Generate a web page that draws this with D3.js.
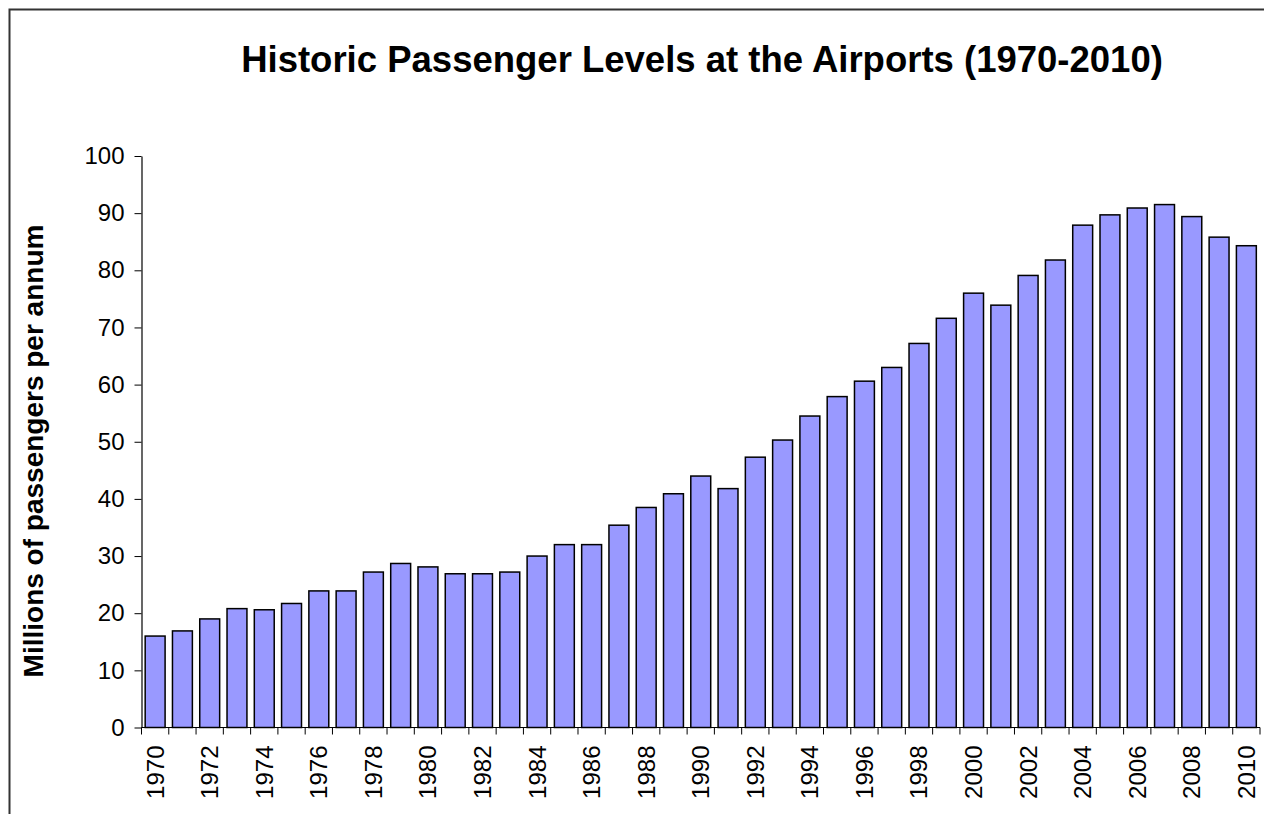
<!DOCTYPE html>
<html>
<head>
<meta charset="utf-8">
<script src="https://cdn.jsdelivr.net/npm/d3@7"></script>
<style>
  html, body { margin: 0; padding: 0; background: #fff; overflow: hidden; }
  svg { display: block; font-family: "Liberation Sans", Arial, sans-serif; }
</style>
</head>
<body>
<svg id="chart" width="1264" height="814"></svg>
<script>
// years and passengers (millions per annum)
const years = d3.range(1970, 2011);
const passengers = [
  16.0, 16.9, 19.0, 20.8, 20.6, 21.7, 23.9, 23.9, 27.2, 28.7,
  28.1, 26.9, 26.9, 27.2, 30.0, 32.0, 32.0, 35.4, 38.5, 40.9,
  44.0, 41.8, 47.3, 50.3, 54.5, 57.9, 60.6, 63.0, 67.2, 71.6,
  76.0, 73.9, 79.1, 81.8, 87.9, 89.7, 90.9, 91.5, 89.4, 85.8,
  84.3
];
const yTicks = [0, 10, 20, 30, 40, 50, 60, 70, 80, 90, 100];
const labelYears = years.filter((y) => (y - 1970) % 2 === 0);

const svg = d3.select("#chart");

// plot box
const plotLeft = 141.5, plotRight = 1260, plotTop = 156, plotBottom = 727.5;

// outer frame, runs off the right and bottom edges
svg.append("rect")
  .attr("x", 9.5).attr("y", 9.5)
  .attr("width", 1400).attr("height", 1000)
  .attr("fill", "none")
  .attr("stroke", "#333")
  .attr("stroke-width", 2);

// title
svg.append("text")
  .attr("x", 702).attr("y", 72)
  .attr("text-anchor", "middle")
  .style("font-size", "36.5px")
  .style("font-weight", "bold")
  .text("Historic Passenger Levels at the Airports (1970-2010)");

const x = d3.scaleBand()
  .domain(years)
  .range([plotLeft, plotRight])
  .paddingInner(0.27)
  .paddingOuter(0.135);

const y = d3.scaleLinear()
  .domain([0, 100])
  .range([plotBottom, plotTop]);

// bars
svg.append("g")
  .selectAll("rect")
  .data(years)
  .join("rect")
  .attr("x", (d) => x(d))
  .attr("y", (d, i) => y(passengers[i]))
  .attr("width", x.bandwidth())
  .attr("height", (d, i) => y(0) - y(passengers[i]))
  .attr("fill", "#9999ff")
  .attr("stroke", "#000")
  .attr("stroke-width", 1.5);

// y axis
const yAxis = svg.append("g")
  .attr("transform", `translate(${plotLeft},0)`)
  .call(d3.axisLeft(y).tickValues(yTicks).tickSize(7).tickPadding(10).tickSizeOuter(0));
yAxis.select(".domain").attr("stroke", "#000").attr("stroke-width", 1.2);
yAxis.selectAll(".tick line").attr("stroke", "#000");
yAxis.selectAll(".tick text")
  .style("font-size", "24px")
  .attr("fill", "#000");

// x axis: a tick at every category boundary
const step = x.step();
const bounds = years.map((d) => x(d) - x.paddingInner() * step / 2).concat([plotRight]);
const xAxisG = svg.append("g");
xAxisG.append("line")
  .attr("x1", plotLeft).attr("x2", plotRight)
  .attr("y1", plotBottom).attr("y2", plotBottom)
  .attr("stroke", "#000").attr("stroke-width", 1.2);
xAxisG.selectAll("line.tk")
  .data(bounds)
  .join("line")
  .attr("class", "tk")
  .attr("x1", (d) => d).attr("x2", (d) => d)
  .attr("y1", plotBottom).attr("y2", plotBottom + 7)
  .attr("stroke", "#000");
xAxisG.selectAll("text")
  .data(labelYears)
  .join("text")
  .attr("transform", (d) => `translate(${x(d) + x.bandwidth() / 2 + 8.5},${plotBottom + 18}) rotate(-90)`)
  .attr("text-anchor", "end")
  .style("font-size", "24px")
  .text((d) => d);

// y axis title
svg.append("text")
  .attr("transform", "translate(43,451) rotate(-90)")
  .attr("text-anchor", "middle")
  .style("font-size", "28px")
  .style("font-weight", "bold")
  .text("Millions of passengers per annum");
</script>
</body>
</html>
